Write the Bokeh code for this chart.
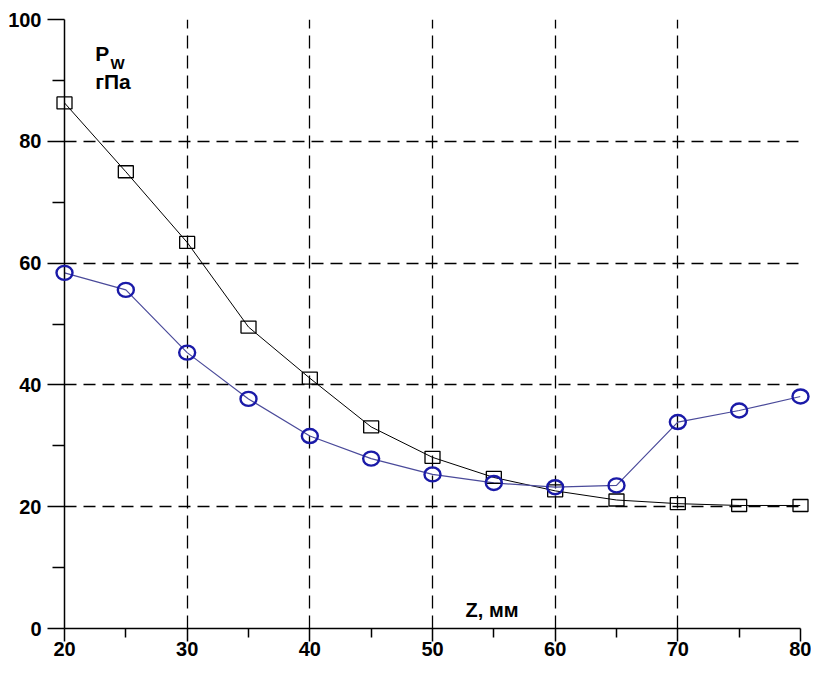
from bokeh.plotting import figure
from bokeh.models import FixedTicker, Label
from bokeh.embed import file_html
from bokeh.resources import INLINE

z_mm = [20, 25, 30, 35, 40, 45, 50, 55, 60, 65, 70, 75, 80]
pw_squares = [86.3, 75.0, 63.4, 49.5, 41.1, 33.1, 28.1, 24.8, 22.6, 21.1, 20.5, 20.2, 20.2]
pw_circles = [58.4, 55.6, 45.3, 37.7, 31.6, 27.9, 25.3, 23.9, 23.2, 23.5, 33.9, 35.8, 38.1]

x_major = [20, 30, 40, 50, 60, 70, 80]
x_minor = [25, 35, 45, 55, 65, 75]
y_major = [0, 20, 40, 60, 80, 100]
y_minor = [10, 30, 50, 70, 90]

FONT = "Liberation Sans"

p = figure(width=811, height=664, x_range=(20, 80), y_range=(0, 100),
           output_backend="svg", toolbar_location=None,
           min_border_left=64, min_border_right=11, min_border_top=19,
           min_border_bottom=36)
p.outline_line_color = None
p.background_fill_color = "white"
p.border_fill_color = "white"

p.xaxis.ticker = FixedTicker(ticks=x_major, minor_ticks=x_minor)
p.yaxis.ticker = FixedTicker(ticks=y_major, minor_ticks=y_minor)

for ax in (p.xaxis, p.yaxis):
    ax.axis_line_color = "black"
    ax.axis_line_width = 1.5
    ax.major_tick_line_color = "black"
    ax.minor_tick_line_color = "black"
    ax.major_tick_line_width = 1.5
    ax.minor_tick_line_width = 1.5
    ax.major_tick_in = 0
    ax.minor_tick_in = 0
    ax.major_label_text_font = FONT
    ax.major_label_text_font_style = "bold"
    ax.major_label_text_font_size = "20px"
    ax.major_label_text_color = "black"

p.xaxis.major_tick_out = 13
p.xaxis.minor_tick_out = 9
p.xaxis.major_label_standoff = 0
p.yaxis.major_tick_out = 17
p.yaxis.minor_tick_out = 12
p.yaxis.major_label_standoff = 6

p.xgrid.grid_line_color = "black"
p.xgrid.grid_line_dash = "13 7"
p.xgrid.grid_line_width = 1.3
p.ygrid.grid_line_color = "black"
p.ygrid.grid_line_dash = "12 7"
p.ygrid.grid_line_width = 1.3

# lines
p.line(z_mm, pw_squares, line_color="black", line_width=1)
p.line(z_mm, pw_circles, line_color="#4a4a9a", line_width=1.2)

# markers
sq = p.rect(z_mm, pw_squares, width=15, height=12, width_units="screen",
            height_units="screen", fill_color=None, line_color="black", line_width=1.3)
ci = p.ellipse(z_mm, pw_circles, width=16, height=14, width_units="screen",
               height_units="screen", fill_color=None, line_color="#1a1aa8", line_width=2.4)
sq.level = "overlay"
ci.level = "overlay"

# labels
p.add_layout(Label(x=22.5, y=92.6, text="P", text_font=FONT, text_font_style="bold",
                   text_font_size="21px", text_color="black"))
p.add_layout(Label(x=23.75, y=91.3, text="W", text_font=FONT, text_font_style="bold",
                   text_font_size="15px", text_color="black"))
p.add_layout(Label(x=22.5, y=88.0, text="гПа", text_font=FONT, text_font_style="bold",
                   text_font_size="21px", text_color="black"))
p.add_layout(Label(x=52.7, y=1.2, text="Z, мм", text_font=FONT, text_font_style="bold",
                   text_font_size="20px", text_color="black"))

open("out.html", "w").write(file_html(p, INLINE))
